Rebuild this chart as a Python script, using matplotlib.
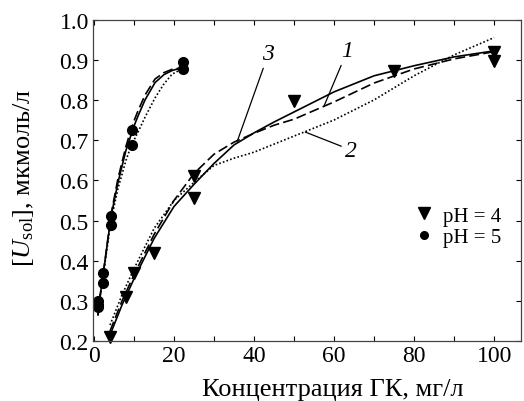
import numpy as np
import matplotlib
matplotlib.use("Agg")
import matplotlib.pyplot as plt
from matplotlib.lines import Line2D

plt.rcParams['font.family'] = ['Liberation Serif', 'DejaVu Serif']
plt.rcParams['mathtext.fontset'] = 'custom'
plt.rcParams['mathtext.rm'] = 'Liberation Serif'
plt.rcParams['mathtext.it'] = 'Liberation Serif:italic'

# Measured points
ph4_x = [4, 8, 10, 15, 25, 25, 50, 75, 100, 100]
ph4_y = [0.21, 0.31, 0.37, 0.42, 0.61, 0.555, 0.798, 0.872, 0.919, 0.898]

ph5_x = [1, 1, 1, 2.2, 2.2, 4.2, 4.2, 9.5, 9.5, 22.3, 22.3]
ph5_y = [0.285, 0.30, 0.29, 0.37, 0.345, 0.51, 0.49, 0.725, 0.688, 0.895, 0.878]

# Model curves, pH = 4
c4_x = [4, 7, 10, 15, 20, 25, 30, 35, 40, 45, 50, 60, 70, 80, 90, 100]
c4_solid = [0.215, 0.29, 0.355, 0.455, 0.535, 0.59, 0.642, 0.688, 0.718, 0.745,
            0.77, 0.82, 0.86, 0.885, 0.907, 0.922]
c4_dash = [0.225, 0.30, 0.365, 0.465, 0.55, 0.617, 0.665, 0.695, 0.717, 0.737,
           0.752, 0.795, 0.842, 0.877, 0.902, 0.92]
c4_dot = [0.24, 0.315, 0.38, 0.48, 0.55, 0.595, 0.637, 0.655, 0.67, 0.69,
          0.71, 0.75, 0.80, 0.86, 0.912, 0.955]

# Model curves, pH = 5
c5_x = [1, 1.5, 2.75, 4.25, 6, 8, 9, 10, 11, 12.75, 15.25, 17.5, 19.5, 22]
c5_solid = [0.265, 0.31, 0.40, 0.51, 0.595, 0.675, 0.705, 0.735, 0.76, 0.80,
            0.843, 0.863, 0.873, 0.88]
c5_dash = [0.265, 0.31, 0.40, 0.515, 0.605, 0.685, 0.718, 0.748, 0.773, 0.812,
           0.852, 0.868, 0.876, 0.88]
c5_dot = [0.265, 0.31, 0.395, 0.50, 0.58, 0.65, 0.678, 0.70, 0.72, 0.757,
          0.805, 0.84, 0.864, 0.877]

# curve labels: text, label position, pointer end
curve_labels = [("3", (43.6, 0.915), (35.8, 0.697)),
                ("1", (63.3, 0.922), (57.5, 0.785)),
                ("2", (64.3, 0.675), (52.8, 0.72))]

fig = plt.figure(figsize=(5.24, 4.02), dpi=100)
ax = fig.add_axes([0.1775, 0.149, 0.817, 0.80])

lw = 1.2
ax.plot(c4_x, c4_solid, color='k', lw=lw, ls='-')
ax.plot(c4_x, c4_dash, color='k', lw=lw, ls=(0, (6, 2.5)))
ax.plot(c4_x, c4_dot, color='k', lw=lw, ls=(0, (1, 1.3)))
ax.plot(c5_x, c5_solid, color='k', lw=lw, ls='-')
ax.plot(c5_x, c5_dash, color='k', lw=lw, ls=(0, (6, 2.5)))
ax.plot(c5_x, c5_dot, color='k', lw=lw, ls=(0, (1, 1.3)))

tri, = ax.plot(ph4_x, ph4_y, 'kv', ms=8, ls='none', clip_on=False)
circ, = ax.plot(ph5_x, ph5_y, 'ko', ms=7, ls='none', clip_on=False)

for txt, pos, tip in curve_labels:
    ax.annotate(txt, xy=tip, xytext=pos, fontsize=17, style='italic',
                ha='center', va='center',
                arrowprops=dict(arrowstyle='-', color='k', lw=0.9,
                                shrinkA=1, shrinkB=0))

leg = ax.legend([Line2D([], [], marker='v', color='k', ls='none', ms=9),
                 Line2D([], [], marker='o', color='k', ls='none', ms=5.5)],
                ['pH = 4', 'pH = 5'], loc='upper left',
                bbox_to_anchor=(0.735, 0.452), frameon=False, fontsize=15,
                handlelength=0.6, handletextpad=0.6, borderpad=0,
                labelspacing=0.1)

ax.set_xlim(-0.25, 106.75)
ax.set_ylim(0.2, 1.0)
ax.set_xticks([0, 20, 40, 60, 80, 100])
ax.set_xticks(np.arange(10, 101, 20), minor=True)
ax.set_yticks(np.arange(0.2, 1.01, 0.1))
ax.set_yticklabels([f"{v:.1f}" for v in np.arange(0.2, 1.01, 0.1)])
ax.tick_params(which='both', direction='in', top=True, right=True,
               length=3.5, width=0.8, labelsize=17, pad=3)
for s in ax.spines.values():
    s.set_linewidth(0.9)
    s.set_color('#444444')

ax.set_xlabel("Концентрация ГК, мг/л", fontsize=19)
ax.xaxis.label.set_verticalalignment('center')
ax.xaxis.set_label_coords(0.56, -0.15)
ax.set_ylabel(r"$[\mathit{U}_{\mathrm{sol}}]$, мкмоль/л", fontsize=19)
ax.yaxis.label.set_verticalalignment('center')
ax.yaxis.set_label_coords(-0.163, 0.51)

fig.savefig("out.png", dpi=100)
